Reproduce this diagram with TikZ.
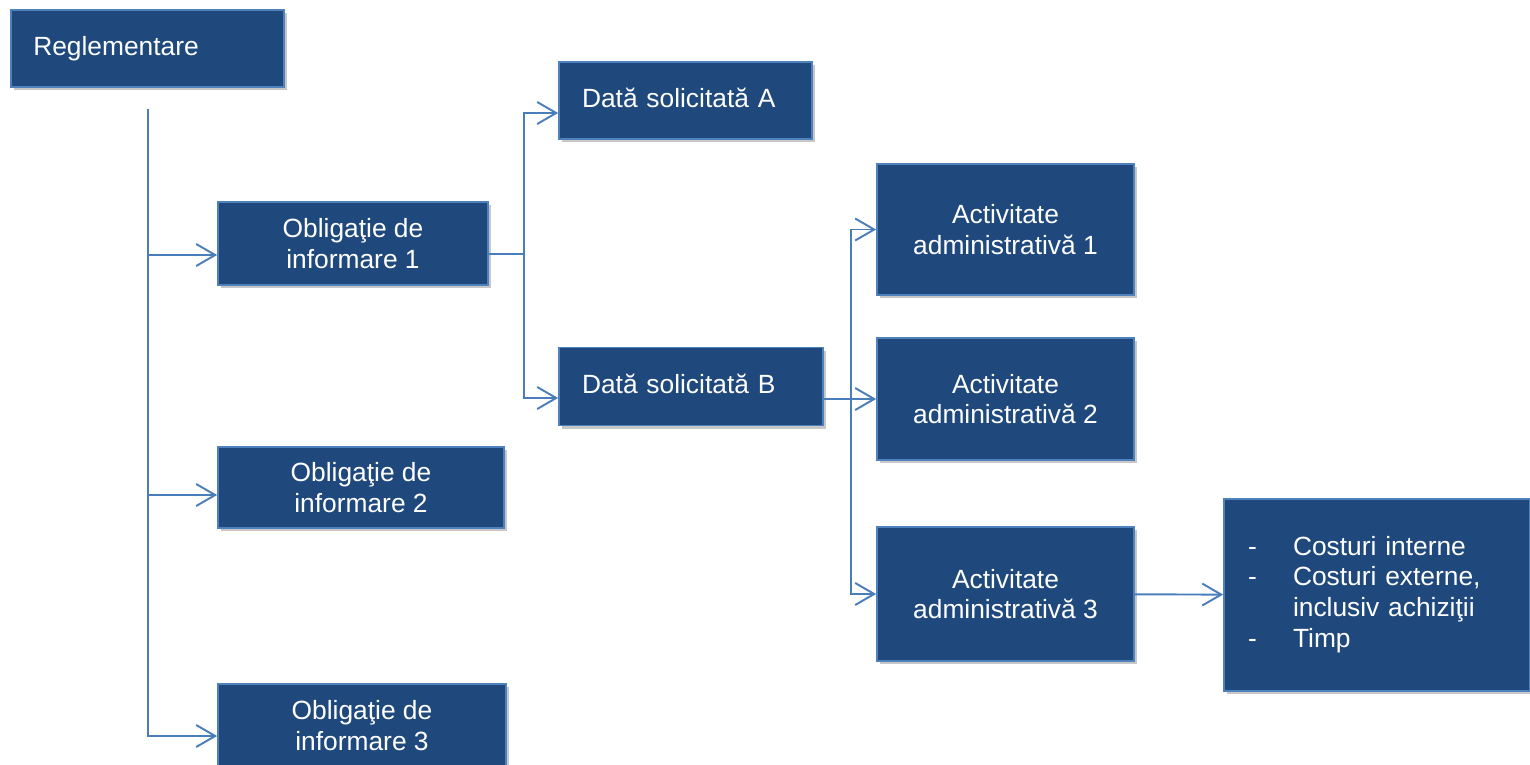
\documentclass[tikz,border=0pt]{standalone}
\usepackage{fontspec}
\setmainfont{Liberation Sans}
\usetikzlibrary{arrows.meta,shadows}
\definecolor{boxblue}{RGB}{31,73,125}
\definecolor{edgeblue}{RGB}{79,129,189}
\definecolor{lineblue}{RGB}{74,126,187}
\begin{document}
\begin{tikzpicture}
	\tikzstyle{Box} = [rectangle, draw=edgeblue, line width=1pt, fill=boxblue, text=white, font=\fontsize{15}{17.5}\selectfont, align=center, inner sep=0pt, drop shadow={shadow xshift=0.05cm, shadow yshift=-0.06cm, opacity=0.22, fill=black}]
	\tikzstyle{LeftBox} = [Box, align=left, inner ysep=0pt]
	\tikzstyle{wire} = [lineblue, line width=1.1pt]
	\tikzstyle{arrow} = [wire, -{Straight Barb[length=0.38cm, width=0.44cm, line width=1.1pt]}]
	
	\useasboundingbox (0,0) rectangle (30.6,-15.3);
	
	\node (reg) [LeftBox, text width=4.58cm, inner xsep=0.44cm, minimum height=1.54cm] at (2.955,-0.97) {\raisebox{0.05cm}{Reglementare}};
	\node (ob1) [Box, minimum width=5.4cm, minimum height=1.66cm] at (7.06,-4.87) {Obligaţie de\\informare 1};
	\node (ob2) [Box, minimum width=5.72cm, minimum height=1.62cm] at (7.22,-9.75) {Obligaţie de\\informare 2};
	\node (ob3) [Box, minimum width=5.76cm, minimum height=1.66cm] at (7.24,-14.51) {Obligaţie de\\informare 3};
	\node (dA) [LeftBox, text width=4.14cm, inner xsep=0.46cm, minimum height=1.54cm] at (13.71,-2.01) {\raisebox{0.11cm}{Dată solicitată A}};
	\node (dB) [LeftBox, text width=4.36cm, inner xsep=0.46cm, minimum height=1.56cm] at (13.82,-7.73) {\raisebox{0.11cm}{Dată solicitată B}};
	\node (a1) [Box, minimum width=5.14cm, minimum height=2.62cm] at (20.11,-4.59) {Activitate\\administrativă 1};
	\node (a2) [Box, minimum width=5.14cm, minimum height=2.44cm] at (20.11,-7.98) {Activitate\\administrativă 2};
	\node (a3) [Box, minimum width=5.14cm, minimum height=2.68cm] at (20.11,-11.88) {Activitate\\administrativă 3};
	\node (cost) [LeftBox, text width=5.16cm, inner xsep=0.48cm, minimum height=3.84cm] at (27.54,-11.9)
		{\raisebox{-0.12cm}{\begin{tabular}{@{}p{0.9cm}@{}l@{}}
			- & Costuri interne\\
			- & Costuri externe,\\
			  & inclusiv achiziţii\\
			- & Timp
		\end{tabular}}};
	
	% entry points
	\coordinate (o1in) at ([yshift=-0.23cm]ob1.west);
	\coordinate (o2in) at ([yshift=-0.15cm]ob2.west);
	\coordinate (o3in) at ([yshift=-0.21cm]ob3.west);
	\coordinate (dAin) at ([yshift=-0.25cm]dA.west);
	\coordinate (dBin) at ([yshift=-0.23cm]dB.west);
	\coordinate (j1) at (10.48,-5.08);
	\coordinate (j2) at (17.02,-7.98);
	
	\draw [arrow] ([yshift=-0.42cm]reg.south) |- (o3in);
	\draw [arrow] (reg.south |- o1in) -- (o1in);
	\draw [arrow] (reg.south |- o2in) -- (o2in);
	
	\draw [wire] ([yshift=-0.21cm]ob1.east) -- (j1);
	\draw [arrow] (j1) |- (dAin);
	\draw [arrow] (j1) |- (dBin);
	
	\draw [arrow] ([yshift=-0.25cm]dB.east) -- (a2.west);
	\draw [arrow] (j2) |- (a1.west);
	\draw [arrow] (j2) |- (a3.west);
	\draw [arrow] (a3) -- (cost);
\end{tikzpicture}
\end{document}
